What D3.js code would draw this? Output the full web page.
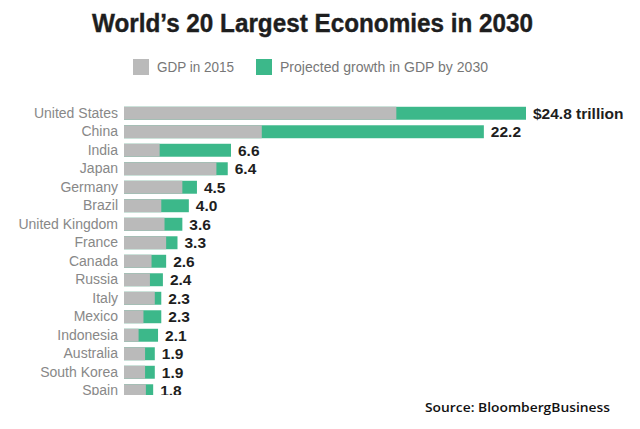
<!DOCTYPE html>
<html><head><meta charset="utf-8">
<script src="https://cdn.jsdelivr.net/npm/d3@7"></script>
<style>body{margin:0;background:#fff}svg{display:block}</style>
</head><body>
<svg id="c" width="640" height="429"></svg>
<script>
const countries = ["United States","China","India","Japan","Germany","Brazil","United Kingdom","France","Canada","Russia","Italy","Mexico","Indonesia","Australia","South Korea","Spain"];
const gdp2015 = [16.8,8.5,2.2,5.7,3.6,2.3,2.5,2.6,1.7,1.6,1.9,1.2,0.9,1.3,1.3,1.35];
const gdp2030 = [24.8,22.2,6.6,6.4,4.5,4.0,3.6,3.3,2.6,2.4,2.3,2.3,2.1,1.9,1.9,1.8];
const valueLabels = ["$24.8 trillion","22.2","6.6","6.4","4.5","4.0","3.6","3.3","2.6","2.4","2.3","2.3","2.1","1.9","1.9","1.8"];
const legendLabels = ["GDP in 2015","Projected growth in GDP by 2030"];
const GRAY="#bababa", GREEN="#3cb88a";

const svg=d3.select("#c");
svg.append("text").attr("x",92).attr("y",32)
  .attr("font-family","Liberation Sans, Arial, sans-serif").attr("font-weight","bold")
  .attr("font-size",26).attr("fill","#1e1e1e").attr("stroke","#1e1e1e").attr("stroke-width",0.4)
  .attr("textLength",441).attr("lengthAdjust","spacingAndGlyphs")
  .text("World’s 20 Largest Economies in 2030");

// legend
const lg=[{x:133,c:GRAY,t:legendLabels[0],w:77},{x:256,c:GREEN,t:legendLabels[1],w:208}];
lg.forEach(d=>{
  svg.append("rect").attr("x",d.x).attr("y",59).attr("width",16).attr("height",16).attr("fill",d.c);
  svg.append("text").attr("x",d.x+24).attr("y",72).attr("font-family","Liberation Sans, Arial, sans-serif")
    .attr("font-size",14).attr("fill","#777").attr("textLength",d.w).attr("lengthAdjust","spacingAndGlyphs").text(d.t);
});

const x=d3.scaleLinear().domain([0,24.8]).range([124,526]);
const y=d3.scaleBand().domain(countries).range([104,400]).paddingInner(0.3).paddingOuter(0.15);

svg.append("defs").append("clipPath").attr("id","clip").append("rect").attr("x",0).attr("y",95).attr("width",640).attr("height",300);
const g=svg.append("g").attr("clip-path","url(#clip)");

const data=countries.map((c,i)=>({c,a:gdp2015[i],b:gdp2030[i],l:valueLabels[i]}));
g.selectAll(".t").data(data).join("rect").attr("x",x(0)).attr("y",d=>y(d.c))
  .attr("width",d=>x(d.b)-x(0)).attr("height",y.bandwidth()).attr("fill",GREEN);
g.selectAll(".g").data(data).join("rect").attr("class","g").attr("x",x(0)).attr("y",d=>y(d.c))
  .attr("width",d=>x(d.a)-x(0)).attr("height",y.bandwidth()).attr("fill",GRAY);

const axis=d3.axisLeft(y).tickSize(0).tickPadding(6);
const ax=g.append("g").attr("transform",`translate(${x(0)},0)`).call(axis);
ax.select(".domain").remove();
ax.selectAll("text").attr("font-family","Liberation Sans, Arial, sans-serif").attr("font-size",14).attr("fill","#888");

g.selectAll(".v").data(data).join("text").attr("x",d=>x(d.b)+7).attr("y",d=>y(d.c)+y.bandwidth()/2)
  .attr("dy","0.36em").attr("font-family","Liberation Sans, Arial, sans-serif").attr("font-weight","bold")
  .attr("font-size",15.5).attr("fill","#1e1e1e").text(d=>d.l);

svg.append("text").attr("x",425).attr("y",412).attr("font-family","Open Sans, sans-serif").attr("font-weight","600")
  .attr("font-size",13).attr("fill","#111").attr("textLength",185).attr("lengthAdjust","spacingAndGlyphs")
  .text("Source: BloombergBusiness");
</script>
</body></html>
